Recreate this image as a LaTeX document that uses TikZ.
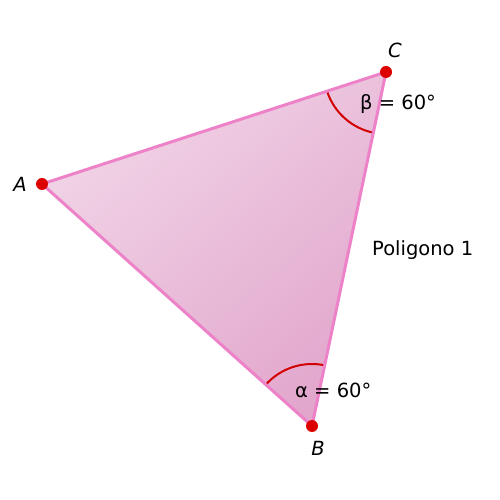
\documentclass[tikz,border=0pt]{standalone}
\usepackage{fontspec}
\setmainfont{DejaVu Sans}
\begin{document}
\begin{tikzpicture}[x=1pt,y=1pt,
  pt/.style={circle,fill=ptred,inner sep=0pt,minimum size=12pt},
  lbl/.style={font=\fontsize{19.5}{23}\selectfont},
  edge/.style={draw=edgepink,line width=3pt,line join=round},
  anglearc/.style={draw=arcred,line width=2pt}]
\definecolor{ptred}{RGB}{220,0,0}
\definecolor{edgepink}{RGB}{238,130,200}
\definecolor{arcred}{RGB}{210,0,0}
\definecolor{filllight}{RGB}{242,214,232}
\definecolor{filldark}{RGB}{225,164,203}
\useasboundingbox (0,0) rectangle (500,500);
\coordinate (A) at (42,316);
\coordinate (B) at (312,74);
\coordinate (C) at (386,428);
\begin{scope}
\clip (A) -- (B) -- (C) -- cycle;
\shade[top color=filllight,bottom color=filldark,shading angle=40] (20,50) rectangle (410,440);
\end{scope}
\draw[anglearc] ([shift={(198:62)}]C) arc[start angle=198,end angle=258.2,radius=62];
\draw[anglearc] ([shift={(138.1:62)}]B) arc[start angle=138.1,end angle=78.2,radius=62];
\draw[edge] (A) -- (B) -- (C) -- cycle;
\node[pt] (pA) at (A) {};
\node[pt] (pB) at (B) {};
\node[pt] (pC) at (C) {};
\node[lbl] (lA) at (20,316) {\itshape A};
\node[lbl] (lB) at (318,52) {\itshape B};
\node[lbl] (lC) at (395,450) {\itshape C};
\node[lbl,anchor=west,inner sep=0pt] (beta) at (360,396) {β = 60°};
\node[lbl,anchor=west,inner sep=0pt] (alpha) at (295,110) {α = 60°};
\node[lbl,anchor=west,inner sep=0pt] (poly) at (372,250) {Poligono 1};
\end{tikzpicture}
\end{document}
